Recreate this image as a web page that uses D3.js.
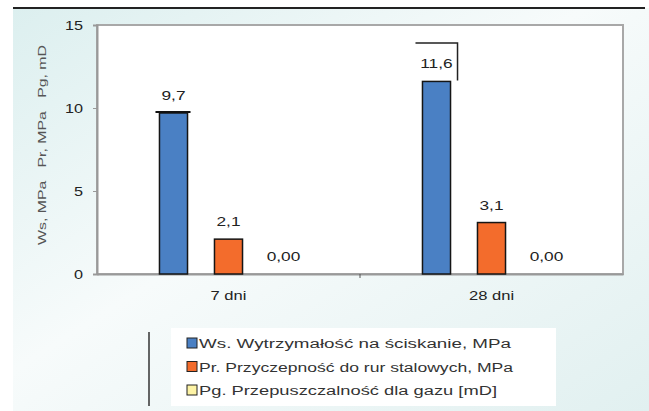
<!DOCTYPE html>
<html>
<head>
<meta charset="utf-8">
<script src="https://cdn.jsdelivr.net/npm/d3@7"></script>
<style>
  html, body { margin: 0; padding: 0; background: #fff; }
  svg { display: block; font-family: "Liberation Sans", Arial, sans-serif; }
</style>
</head>
<body>
<svg id="chart" width="649" height="411"></svg>
<script>
// Categories and series
const categories = ["7 dni", "28 dni"];
const seriesKeys = ["Ws", "Pr", "Pg"];
const wsValues = [9.7, 11.6];
const prValues = [2.1, 3.1];
const pgValues = [0.0, 0.0];
const wsLabels = ["9,7", "11,6"];
const prLabels = ["2,1", "3,1"];
const pgLabels = ["0,00", "0,00"];
const yTicks = [0, 5, 10, 15];
const legendNames = [
  "Ws. Wytrzymałość na ściskanie, MPa",
  "Pr. Przyczepność do rur stalowych, MPa",
  "Pg. Przepuszczalność dla gazu [mD]"
];
const colors = { Ws: "#4a80c4", Pr: "#f36c2c", Pg: "#fdf3a5" };

// widen glyphs horizontally by a factor, keeping the anchor
function stretch(sel, factor) {
  sel.each(function () {
    const w = this.getComputedTextLength();
    d3.select(this).attr("textLength", w * factor).attr("lengthAdjust", "spacingAndGlyphs");
  });
}

const svg = d3.select("#chart");
const defs = svg.append("defs");
const grad = defs.append("linearGradient").attr("id", "bg")
  .attr("x1", "0%").attr("y1", "0%").attr("x2", "100%").attr("y2", "100%");
grad.append("stop").attr("offset", "0%").attr("stop-color", "#dcefef");
grad.append("stop").attr("offset", "45%").attr("stop-color", "#f7fbfb");
grad.append("stop").attr("offset", "100%").attr("stop-color", "#e1f0f0");

// page background panel and top rule
svg.append("rect").attr("x", 13).attr("y", 8).attr("width", 636).attr("height", 403).attr("fill", "url(#bg)");
svg.append("line").attr("x1", 13).attr("x2", 645).attr("y1", 8).attr("y2", 8)
  .attr("stroke", "#222").attr("stroke-width", 2);

const plot = { left: 97, right: 623, top: 25, bottom: 274 };

const y = d3.scaleLinear().domain([0, 15]).range([plot.bottom, plot.top]);
const x = d3.scaleBand().domain(categories).range([plot.left, plot.right]).padding(0);
const xs = d3.scaleBand().domain(seriesKeys).range([-82.5, 82.5]).paddingInner(0.49).paddingOuter(0.245);

// plot area
svg.append("rect").attr("x", plot.left).attr("y", plot.top)
  .attr("width", plot.right - plot.left).attr("height", plot.bottom - plot.top)
  .attr("fill", "#fff").attr("stroke", "#a8a8a8").attr("stroke-width", 2);

// y axis
const yAxis = d3.axisLeft(y).tickValues(yTicks).tickSize(4).tickPadding(10);
const yg = svg.append("g").attr("transform", `translate(${plot.left},0)`).call(yAxis);
yg.select(".domain").attr("stroke", "#999").attr("stroke-width", 2);
yg.selectAll(".tick line").attr("stroke", "#999");
yg.selectAll(".tick text").attr("font-size", 13.5).attr("fill", "#222")
  .attr("font-family", "Liberation Sans, Arial, sans-serif").call(stretch, 1.2);

// x axis
const xAxis = d3.axisBottom(x).tickSize(0).tickPadding(17);
const xg = svg.append("g").attr("transform", `translate(0,${plot.bottom})`).call(xAxis);
xg.select(".domain").attr("stroke", "#999").attr("stroke-width", 2);
xg.selectAll(".tick text").attr("font-size", 12).attr("fill", "#222")
  .attr("font-family", "Liberation Sans, Arial, sans-serif").call(stretch, 1.38);
// group separator tick
svg.append("line").attr("x1", x("28 dni")).attr("x2", x("28 dni"))
  .attr("y1", plot.bottom).attr("y2", plot.bottom + 4).attr("stroke", "#555");

// bars
const rows = [];
categories.forEach((c, i) => {
  rows.push({ cat: c, key: "Ws", v: wsValues[i], label: wsLabels[i] });
  rows.push({ cat: c, key: "Pr", v: prValues[i], label: prLabels[i] });
  rows.push({ cat: c, key: "Pg", v: pgValues[i], label: pgLabels[i] });
});
const bx = d => x(d.cat) + x.bandwidth() / 2 + xs(d.key);

svg.append("g").selectAll("rect").data(rows.filter(d => d.v > 0)).join("rect")
  .attr("x", bx).attr("y", d => y(d.v))
  .attr("width", xs.bandwidth()).attr("height", d => y(0) - y(d.v))
  .attr("fill", d => colors[d.key]).attr("stroke", "#151515").attr("stroke-width", 1.5);

// value labels
svg.append("g").selectAll("text").data(rows).join("text")
  .attr("x", d => bx(d) + xs.bandwidth() / 2)
  .attr("y", d => y(d.v) - 13)
  .attr("text-anchor", "middle").attr("font-size", 13).attr("fill", "#222")
  .text(d => d.label)
  .call(stretch, 1.33);

// label frame remnants
const r97 = rows[0], r116 = rows[3];
svg.append("line")
  .attr("x1", bx(r97) - 4).attr("x2", bx(r97) + xs.bandwidth() + 3)
  .attr("y1", y(r97.v) - 1).attr("y2", y(r97.v) - 1)
  .attr("stroke", "#111").attr("stroke-width", 2);
svg.append("path")
  .attr("d", `M${bx(r116) - 7},43 H${bx(r116) + xs.bandwidth() + 7} V${y(r116.v) - 1}`)
  .attr("fill", "none").attr("stroke", "#222").attr("stroke-width", 1.5);

// y axis title
svg.append("text")
  .attr("transform", "translate(46,145) rotate(-90)")
  .attr("text-anchor", "middle").attr("font-size", 11).attr("fill", "#555")
  .attr("textLength", 200).attr("lengthAdjust", "spacingAndGlyphs")
  .attr("xml:space", "preserve")
  .text("Ws, MPa   Pr, MPa   Pg, mD");

// legend
const legendWidths = [312, 314, 298];
svg.append("rect").attr("x", 171).attr("y", 328).attr("width", 385).attr("height", 78).attr("fill", "#fff");
svg.append("line").attr("x1", 149).attr("x2", 149).attr("y1", 332).attr("y2", 406)
  .attr("stroke", "#333").attr("stroke-width", 1.5);
const lg = svg.append("g").selectAll("g").data(seriesKeys).join("g")
  .attr("transform", (d, i) => `translate(187,${338 + i * 23.5})`);
lg.append("rect").attr("width", 10).attr("height", 10)
  .attr("fill", d => colors[d]).attr("stroke", "#222").attr("stroke-width", 1);
lg.append("text").attr("x", 12).attr("y", 10).attr("font-size", 12.5).attr("fill", "#333")
  .attr("textLength", (d, i) => legendWidths[i]).attr("lengthAdjust", "spacingAndGlyphs")
  .text((d, i) => legendNames[i]);
</script>
</body>
</html>
